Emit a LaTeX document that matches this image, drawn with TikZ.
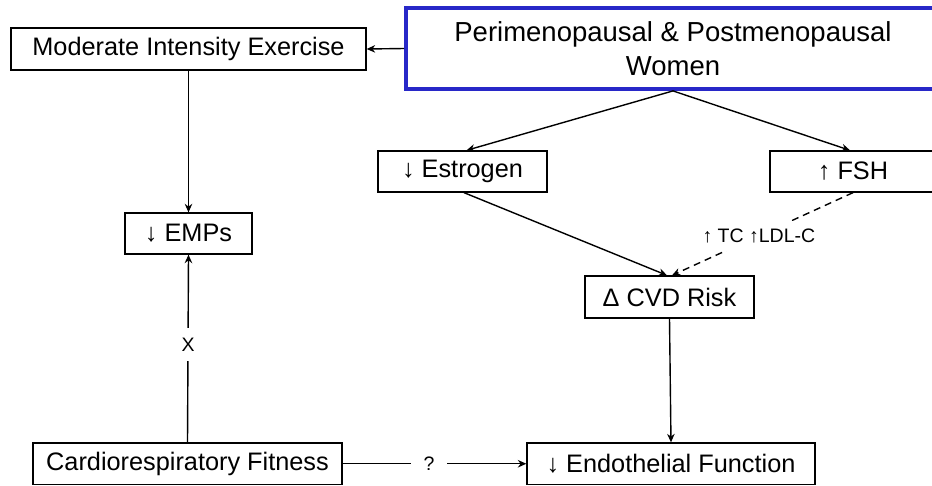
\documentclass[tikz,border=0pt]{standalone}
\usepackage{fontspec}
\setmainfont{Liberation Sans}
\usetikzlibrary{arrows.meta}
\definecolor{frameblue}{RGB}{40,40,200}
\begin{document}
\begin{tikzpicture}[x=1pt,y=-1pt,
  box/.style={draw=black, line width=1.3pt, rectangle, inner sep=0pt, anchor=center,
              font=\fontsize{25.3}{30}\selectfont},
  conn/.style={line width=1.4pt, -{Stealth[length=8.5pt,width=7.5pt]}},
  lbl/.style={fill=white, inner sep=3pt, font=\fontsize{19.5}{22}\selectfont}]
\useasboundingbox (0,0) rectangle (932,485);
% nodes
\node[box, draw=frameblue, line width=3.8pt, minimum width=534pt, minimum height=81pt,
      align=center, font=\fontsize{27.5}{34}\selectfont] (women) at (673,48.5)
      {Perimenopausal \& Postmenopausal\\Women};
\node[box, minimum width=355pt, minimum height=42pt] (mie) at (188.5,49) {Moderate Intensity Exercise};
\node[box, minimum width=169pt, minimum height=41pt] (est) at (462.5,171.5) {↓ Estrogen};
\node[box, minimum width=166pt, minimum height=41pt] (fsh) at (853,171.5) {↑ FSH};
\node[box, minimum width=127pt, minimum height=41pt] (emps) at (188.5,233.5) {↓ EMPs};
\node[box, minimum width=169pt, minimum height=42pt] (cvd) at (669.5,297) {Δ CVD Risk};
\node[box, minimum width=309pt, minimum height=41.5pt] (crf) at (187.5,463.75) {Cardiorespiratory Fitness};
\node[box, minimum width=288pt, minimum height=41.5pt] (ef) at (671,463.75) {↓ Endothelial Function};
% connectors
\draw[conn] (women.west) -- (mie.east);
\draw[conn] (women.south) -- ([xshift=4pt]est.north);
\draw[conn] (women.south) -- ([xshift=-3pt]fsh.north);
\draw[conn] (mie.south) -- (emps.north);
\draw[conn] (crf.north) -- node[lbl, pos=0.52, inner ysep=10pt] {X} (emps.south);
\draw[conn] (crf.east) -- node[lbl, pos=0.47, inner xsep=13pt] {?} (ef.west);
\draw[conn] ([xshift=1.5pt]est.south) -- ([xshift=-2.5pt]cvd.north);
\draw[conn, dash pattern=on 7pt off 5pt] (fsh.south) -- node[lbl, pos=0.52, inner xsep=1pt, inner ysep=8pt] {↑ TC ↑LDL-C} ([xshift=2.5pt]cvd.north);
\draw[conn] (cvd.south) -- (ef.north);
\end{tikzpicture}
\end{document}
